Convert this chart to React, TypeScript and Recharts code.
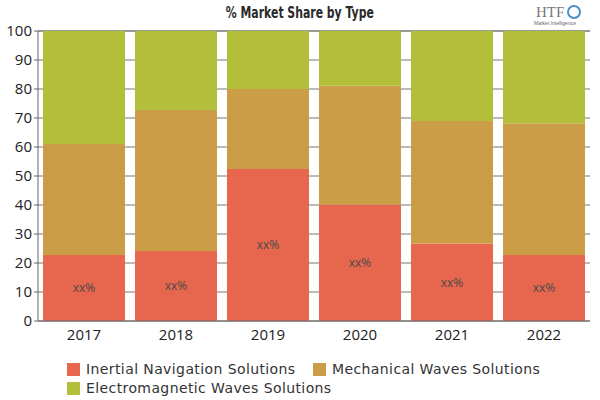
import { BarChart, Bar, XAxis, YAxis, CartesianGrid, LabelList } from "recharts";

const years = ["2017", "2018", "2019", "2020", "2021", "2022"];
const inertial = [22.8, 24.1, 52.4, 40.2, 26.7, 22.8];
const mechanical = [38.2, 48.7, 27.6, 40.9, 42.3, 45.4];
const electromagnetic = [39.0, 27.2, 20.0, 18.9, 31.0, 31.8];
const yTicks = [0, 10, 20, 30, 40, 50, 60, 70, 80, 90, 100];

const seriesNames = [
  "Inertial Navigation Solutions",
  "Mechanical Waves Solutions",
  "Electromagnetic Waves Solutions",
];
const colors = ["#E6674D", "#CB9D47", "#B3BF3B"];

const data = years.map((year, i) => ({
  year,
  inertial: inertial[i],
  mechanical: mechanical[i],
  electromagnetic: electromagnetic[i],
}));

const LegendItem = ({ name, color, left, top }: { name: string; color: string; left: number; top: number }) => (
  <div style={{ position: "absolute", left, top, display: "flex", alignItems: "center" }}>
    <div style={{ width: 13, height: 13, background: color, marginRight: 6 }} />
    <span
      style={{
        fontFamily: "DejaVu Sans",
        fontSize: 14,
        letterSpacing: 0.4,
        color: "#333",
        whiteSpace: "nowrap",
      }}
    >
      {name}
    </span>
  </div>
);

const App = () => {
  return (
    <div style={{ position: "absolute", left: 0, top: 0, width: 600, height: 400, background: "#fff" }}>
      <div style={{ position: "absolute", top: 3, left: 0, width: 600, textAlign: "center" }}>
        <span
          style={{
            display: "inline-block",
            transform: "scaleX(0.68)",
            fontFamily: "'DejaVu Sans', sans-serif",
            fontWeight: "bold",
            fontSize: 16,
            color: "#2a2a2a",
          }}
        >
          % Market Share by Type
        </span>
      </div>
      <svg style={{ position: "absolute", left: 530, top: 0 }} width={60} height={28}>
        <text x={6} y={17} fontFamily="Liberation Serif" fontSize={15} fill="#777">HTF</text>
        <circle cx={44} cy={12} r={6} fill="none" stroke="#4A90C8" strokeWidth={2} />
        <text x={4} y={25} fontFamily="Liberation Sans" fontSize={5} fill="#666">Market Intelligence</text>
      </svg>
      <BarChart
        width={600}
        height={400}
        data={data}
        margin={{ top: 31, right: 10, bottom: 49, left: 4 }}
        barCategoryGap={5}
      >
        <CartesianGrid vertical={false} stroke="#777" />
        <XAxis
          dataKey="year"
          stroke="#666"
          tickLine={false}
          tick={{ fill: "#222", fontSize: 15, fontFamily: "Open Sans" }}
        />
        <YAxis
          width={34}
          domain={[0, 100]}
          ticks={yTicks}
          interval={0}
          stroke="#666"
          tickSize={4}
          tick={{ fill: "#222", fontSize: 15, fontFamily: "Open Sans" }}
        />
        <Bar dataKey="inertial" stackId="a" fill={colors[0]} isAnimationActive={false}>
          <LabelList
            dataKey="inertial"
            position="center"
            formatter={() => "xx%"}
            fill="#4a4a4a"
            fontSize={12}
            fontFamily="Open Sans"
          />
        </Bar>
        <Bar dataKey="mechanical" stackId="a" fill={colors[1]} isAnimationActive={false} />
        <Bar dataKey="electromagnetic" stackId="a" fill={colors[2]} isAnimationActive={false} />
      </BarChart>
      <LegendItem name={seriesNames[0]} color={colors[0]} left={67} top={361} />
      <LegendItem name={seriesNames[1]} color={colors[1]} left={313} top={361} />
      <LegendItem name={seriesNames[2]} color={colors[2]} left={67} top={380} />
    </div>
  );
};

export default App;
